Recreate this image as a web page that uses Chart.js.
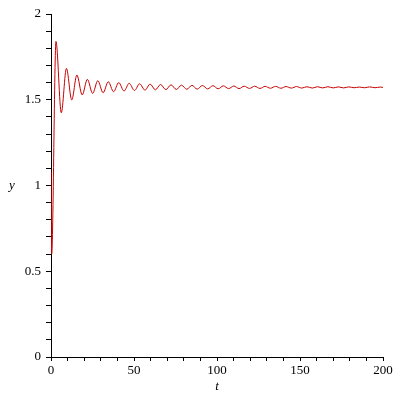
<!DOCTYPE html>
<html>
<head>
<meta charset="utf-8">
<title>y(t)</title>
<script src="https://cdn.jsdelivr.net/npm/chart.js@4/dist/chart.umd.min.js"></script>
<style>
  html, body { margin: 0; padding: 0; background: #fff; }
  #plot { display: block; }
</style>
</head>
<body>
<canvas id="plot" width="400" height="400"></canvas>
<script>
(function () {

    "use strict";

    // tiempos t de los puntos leidos (inicio, maximos y minimos alternados, final)
    var tVals = [
        0, 0.4, 3.0, 6.2, 9.3, 12.5, 15.6, 18.8, 21.9, 25.1, 28.2, 31.4, 34.5, 37.7,
        40.8, 44.0, 47.1, 50.3, 53.4, 56.6, 59.7, 62.9, 66.0, 69.2, 72.3, 75.5,
        78.6, 81.8, 84.9, 88.1, 91.2, 94.4, 97.5, 100.7, 103.8, 107.0, 110.1, 113.3,
        116.4, 119.6, 122.7, 125.9, 129.0, 132.2, 135.3, 138.5, 141.6, 144.8,
        147.9, 151.1, 154.2, 157.4, 160.5, 163.7, 166.8, 170.0, 173.1, 176.3,
        179.4, 182.6, 185.7, 188.9, 192.0, 195.2, 198.3, 200
    ];

    // valores y correspondientes
    var yVals = [
        1.080, 0.600, 1.840, 1.424, 1.683, 1.499, 1.644, 1.528, 1.619, 1.537, 1.611, 1.541, 1.605, 1.547,
        1.600, 1.551, 1.596, 1.554, 1.593, 1.556, 1.591, 1.558, 1.589, 1.559, 1.587, 1.560,
        1.585, 1.561, 1.584, 1.562, 1.583, 1.563, 1.582, 1.564, 1.581, 1.565, 1.580, 1.565,
        1.579, 1.566, 1.579, 1.566, 1.578, 1.567, 1.578, 1.567, 1.577, 1.568,
        1.577, 1.568, 1.576, 1.568, 1.576, 1.569, 1.576, 1.569, 1.575, 1.569,
        1.575, 1.570, 1.574, 1.570, 1.575, 1.570, 1.574, 1.572
    ];

    var xTickLabels = [0, 50, 100, 150, 200];
    var yTickLabels = [0, 0.5, 1, 1.5, 2];

    var serif = 'Liberation Serif';
    Chart.defaults.font.family = serif;
    Chart.defaults.font.size = 13;
    Chart.defaults.color = 'black';

    var points = tVals.map(function (t, i) {
        return { x: t, y: yVals[i] };
    });

    function hasLabel(list, value) {
        return list.some(function (v) { return Math.abs(v - value) < 1e-6; });
    }

    // Titulos de ejes en cursiva, sin rotar (estilo Maple)
    var axisTitles = {
        id: 'axisTitles',
        afterDraw: function (chart) {
            var ctx = chart.ctx;
            var area = chart.chartArea;
            ctx.save();
            ctx.fillStyle = 'black';
            ctx.font = 'italic 13px "Liberation Serif"';
            ctx.textAlign = 'center';
            ctx.textBaseline = 'middle';
            ctx.fillText('t', (area.left + area.right) / 2, area.bottom + 30);
            ctx.fillText('y', 12, (area.top + area.bottom) / 2);
            ctx.restore();
        }
    };

    new Chart(document.getElementById('plot').getContext('2d'), {
        type: 'line',
        data: {
            datasets: [{
                data: points,
                borderColor: '#c80000',
                borderWidth: 1,
                pointRadius: 0,
                fill: false,
                cubicInterpolationMode: 'monotone'
            }]
        },
        options: {
            responsive: false,
            animation: false,
            devicePixelRatio: 1,
            layout: { padding: { left: 0, top: 14, right: 17, bottom: 0 } },
            plugins: {
                legend: { display: false },
                tooltip: { enabled: false }
            },
            scales: {
                x: {
                    type: 'linear',
                    min: 0,
                    max: 200,
                    afterFit: function (scale) { scale.height = 43; },
                    border: { display: true, color: 'black', width: 1 },
                    grid: { drawOnChartArea: false, drawTicks: true, tickLength: 4, color: 'black' },
                    ticks: {
                        stepSize: 10,
                        autoSkip: false,
                        maxRotation: 0,
                        padding: 2,
                        color: 'black',
                        font: { family: serif, size: 13 },
                        callback: function (value) {
                            return hasLabel(xTickLabels, value) ? String(value) : '';
                        }
                    }
                },
                y: {
                    type: 'linear',
                    min: 0,
                    max: 2,
                    afterFit: function (scale) { scale.width = 51; },
                    border: { display: true, color: 'black', width: 1 },
                    grid: { drawOnChartArea: false, drawTicks: true, tickLength: 5, color: 'black' },
                    ticks: {
                        stepSize: 0.1,
                        autoSkip: false,
                        padding: 5,
                        color: 'black',
                        font: { family: serif, size: 13 },
                        callback: function (value) {
                            if (!hasLabel(yTickLabels, value)) {
                                return '';
                            }
                            return String(Math.round(value * 10) / 10);
                        }
                    }
                }
            }
        },
        plugins: [axisTitles]
    });

})();
</script>
</body>
</html>
